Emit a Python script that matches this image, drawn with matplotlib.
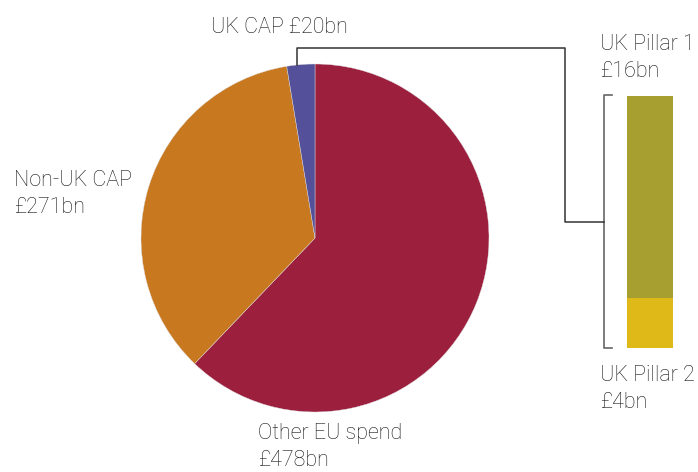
import numpy as np
import matplotlib
matplotlib.use("Agg")
import matplotlib.pyplot as plt

# data
pie_labels = ["Other EU spend\n£478bn", "Non-UK CAP\n£271bn", "UK CAP £20bn"]
pie_values = [478, 271, 20]
pie_colors = ["#9c1f3e", "#c8781f", "#54509a"]

bar_labels = ["UK Pillar 2\n£4bn", "UK Pillar 1\n£16bn"]
bar_values = [4, 16]
bar_colors = ["#dfb918", "#a89f31"]

W, H = 698, 472
plt.rcParams['font.family'] = ['Roboto', 'DejaVu Sans']
txt = dict(fontsize=15.5, color="#151515", fontweight="light", linespacing=1.4)

fig = plt.figure(figsize=(W / 100, H / 100), dpi=100)
ax = fig.add_axes([0, 0, 1, 1])

cx, cy, r = 315, H - 238, 174
wedges, _ = ax.pie(pie_values, colors=pie_colors, startangle=90, counterclock=False,
                   center=(cx, cy), radius=r,
                   wedgeprops=dict(linewidth=0.3, edgecolor="#dddddd"))
ax.set_xlim(0, W)
ax.set_ylim(0, H)
ax.set_aspect("auto")
ax.axis("off")

# stacked bar in its own axes
bx0, bx1, by_top, by_bot = 627, 673, 96, 348
bax = fig.add_axes([bx0 / W, (H - by_bot) / H, (bx1 - bx0) / W, (by_bot - by_top) / H])
bottom = 0
for v, c in zip(bar_values, bar_colors):
    bax.bar(0, v, bottom=bottom, width=1, color=c, linewidth=0)
    bottom += v
bax.set_xlim(-0.5, 0.5)
bax.set_ylim(0, sum(bar_values))
bax.axis("off")

# bracket
brx = 604
ax.plot([brx + 8, brx, brx, brx + 8], [H - by_top + 1, H - by_top + 1, H - by_bot, H - by_bot],
        color="#666666", lw=1.2)

# connector from the UK CAP slice to the bracket
w = wedges[2]
mid = np.deg2rad((w.theta1 + w.theta2) / 2)
sx = cx + r * np.cos(mid) - 4
sy = cy + r * np.sin(mid)
my = H - (by_top + by_bot) / 2
ax.plot([sx, sx, 565, 565, brx], [sy, H - 48, H - 48, my, my], color="#333333", lw=1.1)

# labels
ax.text(211, H - 33, pie_labels[2], ha="left", va="baseline", **txt)
ax.text(14, H - 213, pie_labels[1], ha="left", va="baseline", **txt)
ax.text(258, H - 466, pie_labels[0], ha="left", va="baseline", **txt)
ax.text(600, H - 77, bar_labels[1], ha="left", va="baseline", **txt)
ax.text(600, H - 408, bar_labels[0], ha="left", va="baseline", **txt)

fig.savefig("out.png", dpi=100)
